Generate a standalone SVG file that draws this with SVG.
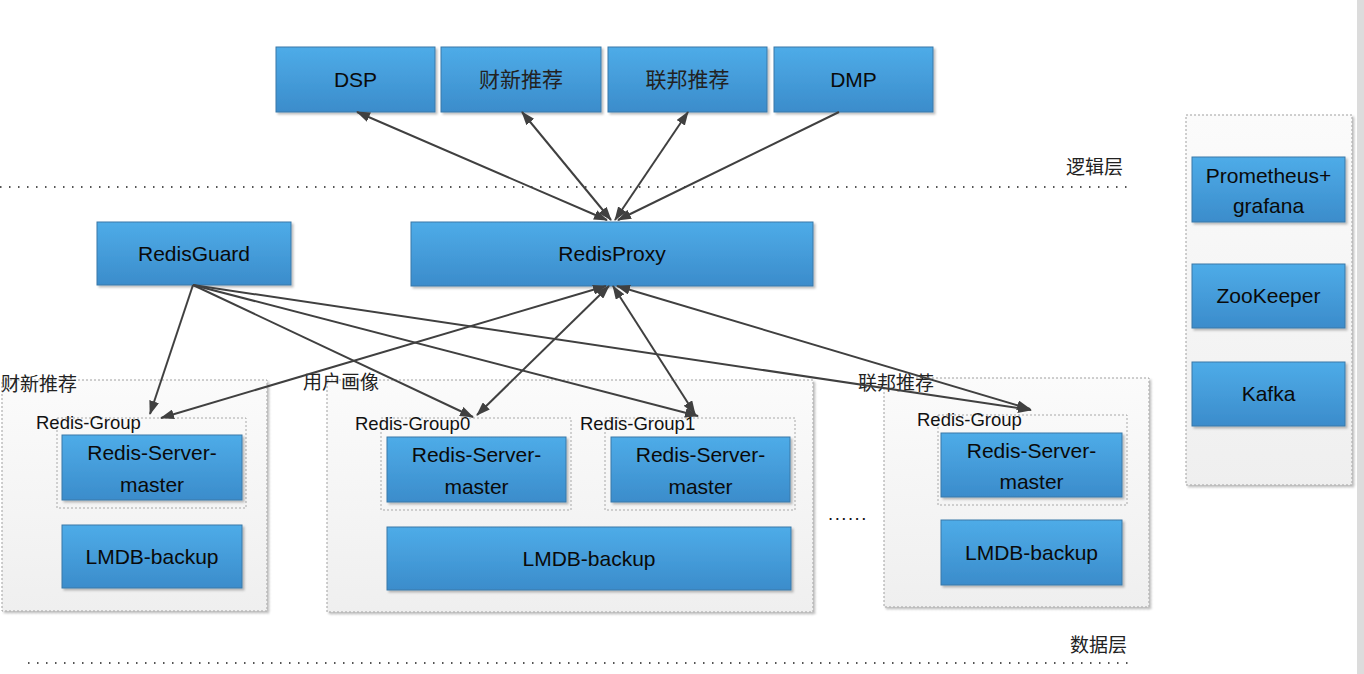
<svg xmlns="http://www.w3.org/2000/svg" width="1364" height="674" viewBox="0 0 1364 674">
<defs>
<linearGradient id="blue" x1="0" y1="0" x2="0" y2="1">
<stop offset="0" stop-color="#4eace8"/>
<stop offset="1" stop-color="#3b8ccb"/>
</linearGradient>
<linearGradient id="gray" x1="0" y1="0" x2="0" y2="1">
<stop offset="0" stop-color="#fbfbfb"/>
<stop offset="1" stop-color="#efefef"/>
</linearGradient>
<filter id="sh" x="-10%" y="-10%" width="130%" height="130%">
<feDropShadow dx="2" dy="2" stdDeviation="1.2" flood-color="#000" flood-opacity="0.25"/>
</filter>
<marker id="ah" viewBox="0 0 14 10" refX="13" refY="5" markerWidth="14" markerHeight="10" markerUnits="userSpaceOnUse" orient="auto-start-reverse">
<path d="M0,0 L14,5 L0,10 Z" fill="#404040"/>
</marker>
<style>
.box{fill:url(#blue);stroke:#3a78a8;stroke-width:1;filter:url(#sh)}
.cont{fill:url(#gray);stroke:#a0a0a0;stroke-width:1;stroke-dasharray:2 2;filter:url(#sh)}
.grp{fill:none;stroke:#a8a8a8;stroke-width:1;stroke-dasharray:2 2}
.t{font-family:"Liberation Sans","Noto Sans CJK SC",sans-serif;font-size:21px;fill:#0a0a0a;text-anchor:middle}
.cn{font-family:"Noto Sans CJK SC","Liberation Sans",sans-serif;font-size:21px;fill:#222;text-anchor:middle}
.lbl{font-family:"Liberation Sans","Noto Sans CJK SC",sans-serif;font-size:18.5px;fill:#111}
.clbl{font-family:"Noto Sans CJK SC",sans-serif;font-size:19px;fill:#222}
.dot{stroke:#555;stroke-width:2;stroke-dasharray:1.5 7.5;fill:none}
.c{stroke:#404040;stroke-width:2;fill:none}
</style>
</defs>
<rect width="1364" height="674" fill="#fff"/>
<rect x="1357" y="0" width="7" height="674" fill="#dcdcdc"/>

<g id="layers">
<line class="dot" x1="0" y1="187" x2="1130" y2="187"/>
<text class="clbl" x="1066" y="174">逻辑层</text>
<line class="dot" x1="28" y1="663" x2="1130" y2="663"/>
<text class="clbl" x="1070" y="652">数据层</text>
</g>

<g id="dsp"><rect class="box" x="276" y="47" width="159" height="65"/><text class="t" x="355.5" y="87">DSP</text></g>
<g id="caixin"><rect class="box" x="441" y="47" width="160" height="65"/><text class="cn" x="521" y="87" font-size="23">财新推荐</text></g>
<g id="lianbang"><rect class="box" x="608" y="47" width="159" height="65"/><text class="cn" x="687.5" y="87" font-size="23">联邦推荐</text></g>
<g id="dmp"><rect class="box" x="774" y="47" width="159" height="65"/><text class="t" x="853.5" y="87">DMP</text></g>

<g id="redisguard"><rect class="box" x="97" y="222" width="194" height="63"/><text class="t" x="194" y="261">RedisGuard</text></g>
<g id="redisproxy"><rect class="box" x="411" y="222" width="402" height="64"/><text class="t" x="612" y="261">RedisProxy</text></g>

<g id="cluster-caixin">
<rect class="cont" x="2" y="380" width="265" height="231"/>
<text class="clbl" x="1" y="391" font-size="18">财新推荐</text>
<rect class="grp" x="57" y="418" width="189" height="90"/>
<text class="lbl" x="36" y="429">Redis-Group</text>
<rect class="box" x="62" y="435" width="180" height="65"/>
<text class="t" x="152" y="460">Redis-Server-</text>
<text class="t" x="152" y="492">master</text>
<rect class="box" x="62" y="525" width="180" height="63"/>
<text class="t" x="152" y="564">LMDB-backup</text>
</g>

<g id="cluster-user">
<rect class="cont" x="327" y="380" width="486" height="232"/>
<text class="clbl" x="303" y="389">用户画像</text>
<rect class="grp" x="381" y="418" width="190" height="92"/>
<text class="lbl" x="355" y="430">Redis-Group0</text>
<rect class="box" x="387" y="437" width="179" height="65"/>
<text class="t" x="476.5" y="462">Redis-Server-</text>
<text class="t" x="476.5" y="494">master</text>
<rect class="grp" x="605" y="418" width="190" height="92"/>
<text class="lbl" x="580" y="430">Redis-Group1</text>
<rect class="box" x="611" y="437" width="179" height="65"/>
<text class="t" x="700.5" y="462">Redis-Server-</text>
<text class="t" x="700.5" y="494">master</text>
<rect class="box" x="387" y="527" width="404" height="63"/>
<text class="t" x="589" y="566">LMDB-backup</text>
</g>

<g id="cluster-lianbang">
<rect class="cont" x="884" y="378" width="265" height="229"/>
<text class="clbl" x="858" y="390">联邦推荐</text>
<rect class="grp" x="938" y="415" width="189" height="90"/>
<text class="lbl" x="917" y="426">Redis-Group</text>
<rect class="box" x="941" y="433" width="181" height="64"/>
<text class="t" x="1031.5" y="458">Redis-Server-</text>
<text class="t" x="1031.5" y="489">master</text>
<rect class="box" x="941" y="520" width="181" height="65"/>
<text class="t" x="1031.5" y="560">LMDB-backup</text>
</g>

<g id="ellipsis"><text class="lbl" x="828" y="520" fill="#333" letter-spacing="1.5">......</text></g>

<g id="ops">
<rect class="cont" x="1186" y="115" width="166" height="370"/>
<rect class="box" x="1192" y="157" width="153" height="65"/>
<text class="t" x="1268.5" y="183">Prometheus+</text>
<text class="t" x="1268.5" y="213">grafana</text>
<rect class="box" x="1192" y="264" width="153" height="64"/>
<text class="t" x="1268.5" y="303">ZooKeeper</text>
<rect class="box" x="1192" y="362" width="153" height="64"/>
<text class="t" x="1268.5" y="401">Kafka</text>
</g>

<g id="connectors">
<line class="c" x1="607" y1="220" x2="357" y2="112" marker-start="url(#ah)" marker-end="url(#ah)"/>
<line class="c" x1="611" y1="220" x2="522" y2="112" marker-start="url(#ah)" marker-end="url(#ah)"/>
<line class="c" x1="615" y1="220" x2="688" y2="112" marker-start="url(#ah)" marker-end="url(#ah)"/>
<line class="c" x1="839" y1="112" x2="618" y2="220" marker-end="url(#ah)"/>

<line class="c" x1="193" y1="285" x2="150" y2="414" marker-end="url(#ah)"/>
<line class="c" x1="193" y1="285" x2="473" y2="417" marker-end="url(#ah)"/>
<line class="c" x1="193" y1="285" x2="698" y2="416" marker-end="url(#ah)"/>
<line class="c" x1="193" y1="285" x2="1031" y2="410" marker-end="url(#ah)"/>

<line class="c" x1="606" y1="286" x2="161" y2="418" marker-start="url(#ah)" marker-end="url(#ah)"/>
<line class="c" x1="609" y1="286" x2="477" y2="415" marker-start="url(#ah)" marker-end="url(#ah)"/>
<line class="c" x1="613" y1="286" x2="695" y2="414" marker-start="url(#ah)" marker-end="url(#ah)"/>
<line class="c" x1="617" y1="286" x2="1030" y2="409" marker-start="url(#ah)" marker-end="url(#ah)"/>
</g>
</svg>
